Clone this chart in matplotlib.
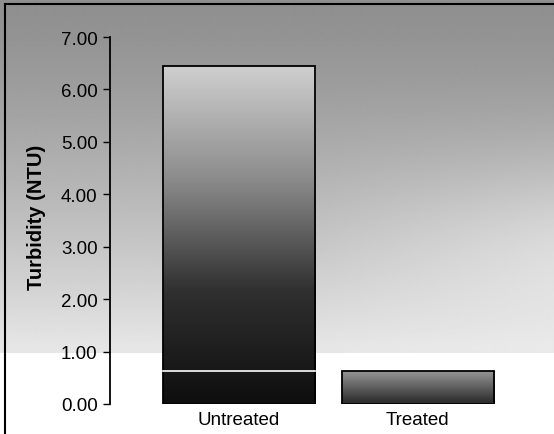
import numpy as np
import matplotlib.pyplot as plt
from matplotlib.colors import LinearSegmentedColormap

# ---------------------- Data ---------------------- #
categories = ["Untreated", "Treated"]
turbidity = [6.45, 0.62]
y_ticks = [0.0, 1.0, 2.0, 3.0, 4.0, 5.0, 6.0, 7.0]

W, H = 554, 435
fig = plt.figure(figsize=(W / 100, H / 100), dpi=100)

# background: grey at the top fading to white near the 1.00 line
bg = fig.add_axes([0, 0, 1, 1])
rows = np.linspace(0, 1, 435)[:, None]          # 0 = top, 1 = bottom
cols = np.linspace(0, 1, 200)[None, :]
grey = 0.56 + 0.34 * np.clip(rows / 0.80, 0, 1) ** 1.3
# slightly lighter on the right-hand side around the middle
grey = grey + 0.08 * np.clip((cols - 0.55) / 0.45, 0, 1) * np.exp(-((rows - 0.55) / 0.2) ** 2)
grey = np.where(rows > 0.815, 1.0, np.clip(grey, 0, 1))
bg.imshow(grey, cmap="gray", vmin=0, vmax=1, aspect="auto",
          extent=[0, 1, 0, 1], interpolation="bilinear")
bg.set_xlim(0, 1)
bg.set_ylim(0, 1)
bg.axis("off")
# scan frame on the left and top
bg.plot([5 / W, 5 / W], [0, 1 - 5 / H], color="black", lw=1.5)
bg.plot([5 / W, 1], [1 - 5 / H, 1 - 5 / H], color="black", lw=1.5)

# main axes
left, bottom, top = 110 / W, (H - 405) / H, (H - 38) / H
ax = fig.add_axes([left, bottom, 1 - left, top - bottom])
ax.patch.set_alpha(0)

x = np.arange(len(categories))
bars = ax.bar(x, turbidity, width=0.85, color="none", edgecolor="black", linewidth=1.3, zorder=3)

# gradient fill inside the bars (light at the top, dark at the bottom)
cmap = LinearSegmentedColormap.from_list("fade", ["#0e0e0e", "#303030", "#8c8c8c", "#cfcfcf"])
for bar, lo, hi in zip(bars, [0.0, 0.3], [1.0, 0.7]):
    bx, bw, bh = bar.get_x(), bar.get_width(), bar.get_height()
    grad = np.linspace(lo, hi, 200)[:, None]
    im = ax.imshow(grad, cmap=cmap, vmin=0, vmax=1, aspect="auto", origin="lower",
                   extent=[bx, bx + bw, 0, bh], zorder=2)
    im.set_clip_path(bar)

# white reference line at treated level inside the untreated bar
ub = bars[0]
ax.plot([ub.get_x(), ub.get_x() + ub.get_width()], [turbidity[1], turbidity[1]],
        color="white", lw=1.2, zorder=4)

ax.set_xlim(-0.72, 1.76)
ax.set_ylim(0, 7)
ax.set_yticks(y_ticks)
ax.set_yticklabels([f"{v:.2f}" for v in y_ticks], fontsize=13.5, fontfamily="Liberation Sans")
ax.set_xticks(x)
ax.set_xticklabels(categories, fontsize=13.5, fontfamily="Liberation Sans")
ax.tick_params(axis="x", length=0, pad=5)
ax.tick_params(axis="y", length=5, width=1, direction="out", pad=4)
for side in ["top", "right", "bottom"]:
    ax.spines[side].set_visible(False)
ax.spines["left"].set_linewidth(1.3)

ax.set_ylabel("Turbidity (NTU)", fontsize=14.5, fontweight="bold", fontfamily="Liberation Sans")
ax.yaxis.set_label_coords(-0.145, 0.51)

fig.savefig("out.png", dpi=100)
